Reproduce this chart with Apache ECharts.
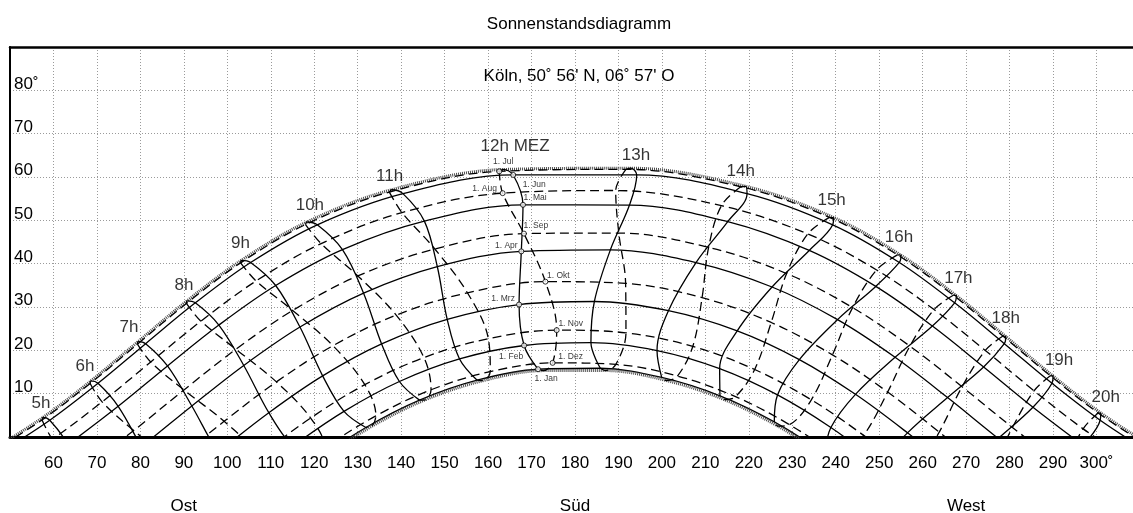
<!DOCTYPE html>
<html>
<head>
<meta charset="utf-8">
<title>Sonnenstandsdiagramm</title>
<script src="https://cdn.jsdelivr.net/npm/echarts@6/dist/echarts.min.js"></script>
<style>
  html, body { margin: 0; padding: 0; background: #fff; }
  #chart { width: 1133px; height: 513px; }
</style>
</head>
<body>
<div id="chart"></div>
<script>
// Stunden MEZ (Spalten), 4h und 21h nur fuer die Sommerbahnen
const hours = [4, 5, 6, 7, 8, 9, 10, 11, 12, 13, 14, 15, 16, 17, 18, 19, 20, 21];
const dates = ['1. Jan', '1. Feb', '1. Mrz', '1. Apr', '1. Mai', '1. Jun', '21. Jun',
               '1. Jul', '1. Aug', '1. Sep', '1. Okt', '1. Nov', '1. Dez', '21. Dez'];

// Azimut in Grad, eine Zeile je Datum
const azimuth = [
  [null, 87.05, 98.48, 109.39, 120.38, 131.90, 144.23, 157.49, 171.50, 185.84, 199.95, 213.36, 225.86, 237.52, 248.58, 259.46, 270.74, null],
  [null, 80.45, 92.40, 103.71, 115.02, 126.85, 139.60, 153.44, 168.29, 183.67, 198.88, 213.29, 226.60, 238.88, 250.40, 261.64, 273.15, null],
  [null, 74.02, 86.21, 97.84, 109.55, 121.94, 135.51, 150.60, 167.14, 184.46, 201.50, 217.33, 231.63, 244.54, 256.51, 268.10, 279.93, null],
  [null, 68.22, 80.20, 91.84, 103.79, 116.72, 131.36, 148.33, 167.65, 188.15, 207.85, 225.34, 240.42, 253.65, 265.73, 277.39, 289.25, null],
  [null, 63.38, 74.89, 86.24, 98.06, 111.13, 126.50, 145.35, 168.04, 192.54, 215.15, 233.90, 249.21, 262.24, 274.03, 285.38, 296.91, null],
  [47.49, 59.15, 70.25, 81.21, 92.64, 105.37, 120.70, 140.41, 165.79, 194.21, 219.59, 239.30, 254.63, 267.36, 278.79, 289.75, 300.85, 312.51],
  [46.01, 57.60, 68.62, 79.47, 90.74, 103.26, 118.31, 137.82, 163.46, 192.89, 219.28, 239.51, 255.01, 267.76, 279.13, 290.01, 300.98, 312.48],
  [45.73, 57.38, 68.44, 79.32, 90.59, 103.06, 118.00, 137.29, 162.57, 191.73, 218.15, 238.55, 254.20, 267.05, 278.48, 289.38, 300.37, 311.87],
  [47.68, 59.78, 71.19, 82.38, 93.93, 106.63, 121.59, 140.19, 163.36, 189.37, 213.69, 233.57, 249.41, 262.62, 274.41, 285.63, 296.93, 308.79],
  [null, 66.63, 78.46, 90.03, 101.98, 115.04, 130.04, 147.75, 168.25, 190.08, 210.75, 228.70, 243.88, 257.06, 269.07, 280.65, 292.43, null],
  [null, 75.67, 87.60, 99.27, 111.30, 124.31, 138.86, 155.25, 173.19, 191.65, 209.25, 225.15, 239.25, 251.95, 263.82, 275.49, 287.60, null],
  [null, 84.47, 96.13, 107.50, 119.18, 131.64, 145.24, 160.06, 175.79, 191.73, 207.10, 221.35, 234.39, 246.42, 257.89, 269.31, 281.35, null],
  [null, 88.94, 100.26, 111.23, 122.40, 134.19, 146.88, 160.51, 174.85, 189.40, 203.58, 216.94, 229.35, 240.93, 251.99, 262.99, 274.56, null],
  [null, 88.43, 99.76, 110.62, 121.61, 133.16, 145.52, 158.79, 172.77, 187.04, 201.03, 214.31, 226.68, 238.24, 249.23, 260.10, 271.41, null]
];

// Sonnenhoehe in Grad, gleiche Anordnung
const altitude = [
  [null, -32.57, -23.15, -13.99, -5.43, 2.20, 8.51, 13.11, 15.64, 15.86, 13.75, 9.51, 3.49, -3.92, -12.34, -21.41, -30.81, null],
  [null, -29.84, -20.42, -11.08, -2.17, 5.92, 12.81, 18.02, 21.12, 21.78, 19.94, 15.78, 9.71, 2.19, -6.34, -15.49, -24.92, null],
  [null, -22.29, -12.99, -3.56, 5.61, 14.11, 21.48, 27.16, 30.57, 31.27, 29.14, 24.49, 17.87, 9.85, 0.96, -8.39, -17.81, null],
  [null, -11.33, -2.25, 7.16, 16.51, 25.37, 33.19, 39.29, 42.84, 43.19, 40.26, 34.62, 27.09, 18.40, 9.11, -0.32, -9.50, null],
  [null, -1.73, 7.09, 16.40, 25.83, 34.96, 43.24, 49.82, 53.58, 53.53, 49.69, 43.05, 34.75, 25.61, 16.17, 6.87, -1.93, null],
  [-3.71, 3.86, 12.39, 21.54, 30.96, 40.28, 48.97, 56.16, 60.47, 60.47, 56.16, 48.97, 40.28, 30.96, 21.54, 12.39, 3.86, -3.71],
  [-2.90, 4.52, 12.94, 22.01, 31.42, 40.78, 49.61, 57.06, 61.73, 62.03, 57.84, 50.65, 41.94, 32.61, 23.19, 14.06, 5.54, -2.03],
  [-3.44, 3.95, 12.36, 21.42, 30.82, 40.19, 49.03, 56.52, 61.30, 61.77, 57.75, 50.67, 42.02, 32.71, 23.29, 14.13, 5.56, -2.06],
  [-8.09, -0.48, 8.11, 17.30, 26.73, 36.01, 44.63, 51.79, 56.27, 56.88, 53.38, 46.86, 38.55, 29.40, 19.97, 10.67, 1.88, -6.05],
  [null, -7.52, 1.48, 10.87, 20.25, 29.20, 37.17, 43.39, 46.94, 47.07, 43.77, 37.72, 29.86, 20.97, 11.60, 2.20, -6.85, null],
  [null, -15.14, -5.81, 3.61, 12.72, 21.07, 28.13, 33.28, 35.85, 35.45, 32.15, 26.43, 18.96, 10.37, 1.14, -8.30, -17.54, null],
  [null, -22.96, -13.52, -4.29, 4.38, 12.07, 18.34, 22.69, 24.66, 24.04, 20.90, 15.58, 8.58, 0.37, -8.61, -17.99, -27.38, null],
  [null, -29.43, -20.02, -10.94, -2.52, 4.89, 10.90, 15.09, 17.11, 16.76, 14.07, 9.31, 2.85, -4.90, -13.55, -22.77, -32.20, null],
  [null, -32.08, -22.67, -13.56, -5.08, 2.42, 8.58, 12.99, 15.32, 15.33, 13.04, 8.65, 2.51, -4.98, -13.44, -22.54, -31.95, null]
];

// Stundenschleifen und ihre Beschriftung
const loopHours = [5, 6, 7, 8, 9, 10, 11, 12, 13, 14, 15, 16, 17, 18, 19, 20];
const loopNames = ['5h', '6h', '7h', '8h', '9h', '10h', '11h', '12h MEZ', '13h', '14h', '15h', '16h', '17h', '18h', '19h', '20h'];
// markierte Tage auf der 12h-Schleife
const markDates = ['1. Jan', '1. Feb', '1. Mrz', '1. Apr', '1. Mai', '1. Jun',
                   '1. Jul', '1. Aug', '1. Sep', '1. Okt', '1. Nov', '1. Dez'];
const compass = { 90: 'Ost', 180: 'Süd', 270: 'West' };

// Lage der Beschriftungen (Pixelversatz)
const markOffset = {
  '1. Jan': [8, 9], '1. Feb': [-13, 11], '1. Mrz': [-16, -6], '1. Apr': [-15, -6],
  '1. Mai': [12, -7], '1. Jun': [21, 10], '1. Jul': [4, -10], '1. Aug': [-18, -5],
  '1. Sep': [12, -8], '1. Okt': [13, -6], '1. Nov': [14, -6], '1. Dez': [18, -6]
};
const hourOffset = {
  5: [-2, -14], 6: [-6, -15], 7: [-9, -14], 8: [-3, -16], 9: [-1, -17], 10: [3, -17],
  11: [-2, -13], 12: [12, -23], 13: [5, -13], 14: [-5, -15], 15: [-2, -17], 16: [-2, -18],
  17: [2, -17], 18: [0, -18], 19: [6, -16], 20: [5, -16]
};

const FONT = '"Liberation Sans", Arial, Helvetica, sans-serif';
const solidStyle = { color: '#000', width: 1.3, type: 'solid' };
const dashStyle = { color: '#000', width: 1.3, type: [9, 5] };
const hatchStyle = { color: '#4a4a4a', width: 3, type: [1, 1] };

function pt(d, i) {
  return [azimuth[d][i], altitude[d][i]];
}

function curve(name, data, style) {
  return {
    name: name,
    type: 'line',
    data: data,
    smooth: 0.35,
    symbol: 'none',
    clip: true,
    silent: true,
    lineStyle: style,
    z: 3
  };
}

const series = [];

// Tagesbahnen
dates.forEach((name, d) => {
  const data = hours.map((h, i) => azimuth[d][i] == null ? null : pt(d, i)).filter(p => p);
  let style = d < 6 ? solidStyle : dashStyle;
  if (name.indexOf('21.') === 0) style = hatchStyle;
  series.push(curve(name, data, style));
});

// Analemma-Schleifen: Jan..Jul durchgezogen, Jul..Jan gestrichelt
const firstHalf = [0, 1, 2, 3, 4, 5, 6, 7];
const secondHalf = [7, 8, 9, 10, 11, 12, 13, 0];
loopHours.forEach(h => {
  const i = hours.indexOf(h);
  series.push(curve(h + 'h a', firstHalf.map(d => pt(d, i)), solidStyle));
  series.push(curve(h + 'h b', secondHalf.map(d => pt(d, i)), dashStyle));
});

// Punkte auf der 12h-Schleife
const noon = hours.indexOf(12);
series.push({
  type: 'scatter',
  silent: true,
  z: 6,
  symbol: 'circle',
  symbolSize: 5,
  itemStyle: { color: '#fff', borderColor: '#000', borderWidth: 1 },
  label: { show: true, position: 'inside', formatter: '{b}', fontSize: 8.5, color: '#000', fontFamily: FONT },
  data: markDates.map(name => ({
    name: name,
    value: pt(dates.indexOf(name), noon),
    label: { offset: markOffset[name] }
  }))
});

// Stundenbeschriftung ueber dem Sommeranfang
const summer = dates.indexOf('21. Jun');
series.push({
  type: 'scatter',
  silent: true,
  z: 6,
  symbolSize: 1,
  itemStyle: { color: 'rgba(0,0,0,0)' },
  label: { show: true, position: 'inside', formatter: '{b}', fontSize: 17, color: '#000', fontFamily: FONT },
  data: loopHours.map((h, k) => ({
    name: loopNames[k],
    value: pt(summer, hours.indexOf(h)),
    label: { offset: hourOffset[h] }
  }))
});

const gridLine = { show: true, lineStyle: { color: '#9a9a9a', width: 1, type: [1, 2] } };

const option = {
  animation: false,
  backgroundColor: '#fff',
  textStyle: { fontFamily: FONT },
  title: [
    {
      text: 'Sonnenstandsdiagramm',
      left: 574, top: 11, textAlign: 'center',
      textStyle: { fontSize: 17, fontWeight: 'normal', color: '#000', fontFamily: FONT }
    },
    {
      text: 'Köln, 50˚ 56\' N, 06˚ 57\' O',
      left: 574, top: 63, textAlign: 'center',
      textStyle: { fontSize: 17, fontWeight: 'normal', color: '#000', fontFamily: FONT }
    }
  ],
  grid: { left: 10, right: 0, top: 47, bottom: 76, containLabel: false, outerBoundsMode: 'none' },
  xAxis: [
    {
      type: 'value', min: 50, max: 308.4, interval: 10, position: 'bottom',
      axisLine: { show: true, onZero: false, lineStyle: { color: '#000', width: 3 } },
      axisTick: { show: false },
      axisLabel: {
        margin: 18, fontSize: 17, color: '#000', fontFamily: FONT,
        formatter: v => (v % 10 === 0 && v >= 60 && v <= 300) ? (v === 300 ? '300˚' : String(v)) : ''
      },
      splitLine: gridLine
    },
    {
      type: 'value', min: 50, max: 308.4, interval: 10, position: 'bottom',
      axisLine: { show: false }, axisTick: { show: false }, splitLine: { show: false },
      axisLabel: { margin: 61, fontSize: 17, color: '#000', fontFamily: FONT, formatter: v => compass[v] || '' }
    },
    {
      type: 'value', min: 50, max: 308.4, position: 'top',
      axisLine: { show: true, onZero: false, lineStyle: { color: '#000', width: 2.5 } },
      axisTick: { show: false }, axisLabel: { show: false }, splitLine: { show: false }
    }
  ],
  yAxis: {
    type: 'value', min: 0, max: 90, interval: 10,
    axisLine: { show: true, onZero: false, lineStyle: { color: '#000', width: 2 } },
    axisTick: { show: false },
    axisLabel: {
      inside: true, margin: 4, verticalAlign: 'bottom', lineHeight: 13, fontSize: 17, color: '#000', fontFamily: FONT,
      formatter: v => (v === 80 ? '80˚' : (v >= 10 && v <= 70 ? String(v) : ''))
    },
    splitLine: gridLine
  },
  series: series
};

const chart = echarts.init(document.getElementById('chart'));
chart.setOption(option);
window.onresize = () => chart.resize();
</script>
</body>
</html>
